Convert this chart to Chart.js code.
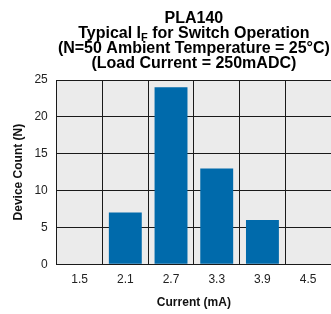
<!DOCTYPE html>
<html lang="en">
<head>
<meta charset="UTF-8">
<script src="https://cdn.jsdelivr.net/npm/chart.js"></script>
<style>
  html, body { margin: 0; padding: 0; background: #ffffff; }
  #wrap { width: 331px; height: 314px; position: relative; }
</style>
</head>
<body>
<div id="wrap"><canvas id="chart"></canvas></div>
<script>
// values
const currents = ['1.5', '2.1', '2.7', '3.3', '3.9', '4.5'];
const deviceCounts = [0, 7, 24, 13, 6, 0];
const countTicks = [0, 5, 10, 15, 20, 25];

const fontFamily = "'Liberation Sans', Arial, Helvetica, sans-serif";
const barColor = '#006aab';
const plotBg = '#ebebeb';
const lineColor = '#1a1a1a';

// gray plot area behind everything
const plotBackground = {
  id: 'plotBackground',
  beforeDraw(chart) {
    const { ctx, chartArea: a } = chart;
    ctx.save();
    ctx.fillStyle = plotBg;
    ctx.fillRect(a.left, a.top, a.right - a.left, a.bottom - a.top);
    ctx.restore();
  }
};

// multi-line title with the subscript F, centred over the plot
const titleBlock = {
  id: 'titleBlock',
  afterDraw(chart) {
    const { ctx, chartArea: a } = chart;
    const cx = (a.left + a.right) / 2;
    const big = 'bold 16px ' + fontFamily;
    const sub = 'bold 11px ' + fontFamily;
    ctx.save();
    ctx.fillStyle = '#000';
    ctx.textBaseline = 'alphabetic';
    ctx.textAlign = 'left';

    const plain = (txt, y) => {
      ctx.font = big;
      const w = ctx.measureText(txt).width;
      ctx.fillText(txt, cx - w / 2, y);
    };
    plain('PLA140', 23);

    // Typical I_F for Switch Operation
    const p1 = 'Typical I', p2 = 'F', p3 = ' for Switch Operation';
    ctx.font = big;
    const w1 = ctx.measureText(p1).width, w3 = ctx.measureText(p3).width;
    ctx.font = sub;
    const w2 = ctx.measureText(p2).width;
    let x = cx - (w1 + w2 + w3) / 2;
    ctx.font = big; ctx.fillText(p1, x, 38); x += w1;
    ctx.font = sub; ctx.fillText(p2, x, 41); x += w2;
    ctx.font = big; ctx.fillText(p3, x, 38);

    plain('(N=50 Ambient Temperature = 25\u00B0C)', 53);
    plain('(Load Current = 250mADC)', 68);
    ctx.restore();
  }
};

new Chart(document.getElementById('chart'), {
  type: 'bar',
  data: {
    labels: currents,
    datasets: [{
      label: 'Device Count',
      data: deviceCounts,
      backgroundColor: barColor,
      borderWidth: 0,
      categoryPercentage: 1.0,
      barPercentage: 0.72
    }]
  },
  options: {
    responsive: true,
    maintainAspectRatio: false,
    animation: false,
    layout: { padding: { top: 80, left: 4, right: -2, bottom: 4 } },
    plugins: {
      legend: { display: false },
      title: { display: false },
      tooltip: { enabled: false }
    },
    scales: {
      x: {
        grid: { color: lineColor, lineWidth: 1, drawTicks: false, offset: true },
        border: { color: lineColor, width: 1 },
        ticks: { color: '#222', padding: 8, font: { family: fontFamily, size: 12 } },
        title: {
          display: true,
          text: 'Current (mA)',
          color: '#111',
          padding: { top: 1, bottom: 0 },
          font: { family: fontFamily, size: 12, weight: 'bold' }
        }
      },
      y: {
        min: 0,
        max: 25,
        afterBuildTicks(axis) { axis.ticks = countTicks.map(v => ({ value: v })); },
        grid: { color: lineColor, lineWidth: 1, drawTicks: false },
        border: { color: lineColor, width: 1 },
        ticks: { color: '#222', padding: 9, font: { family: fontFamily, size: 12 } },
        title: {
          display: true,
          text: 'Device Count (N)',
          color: '#111',
          padding: { top: 7, bottom: 0 },
          font: { family: fontFamily, size: 12, weight: 'bold' }
        }
      }
    }
  },
  plugins: [plotBackground, titleBlock]
});
</script>
</body>
</html>
